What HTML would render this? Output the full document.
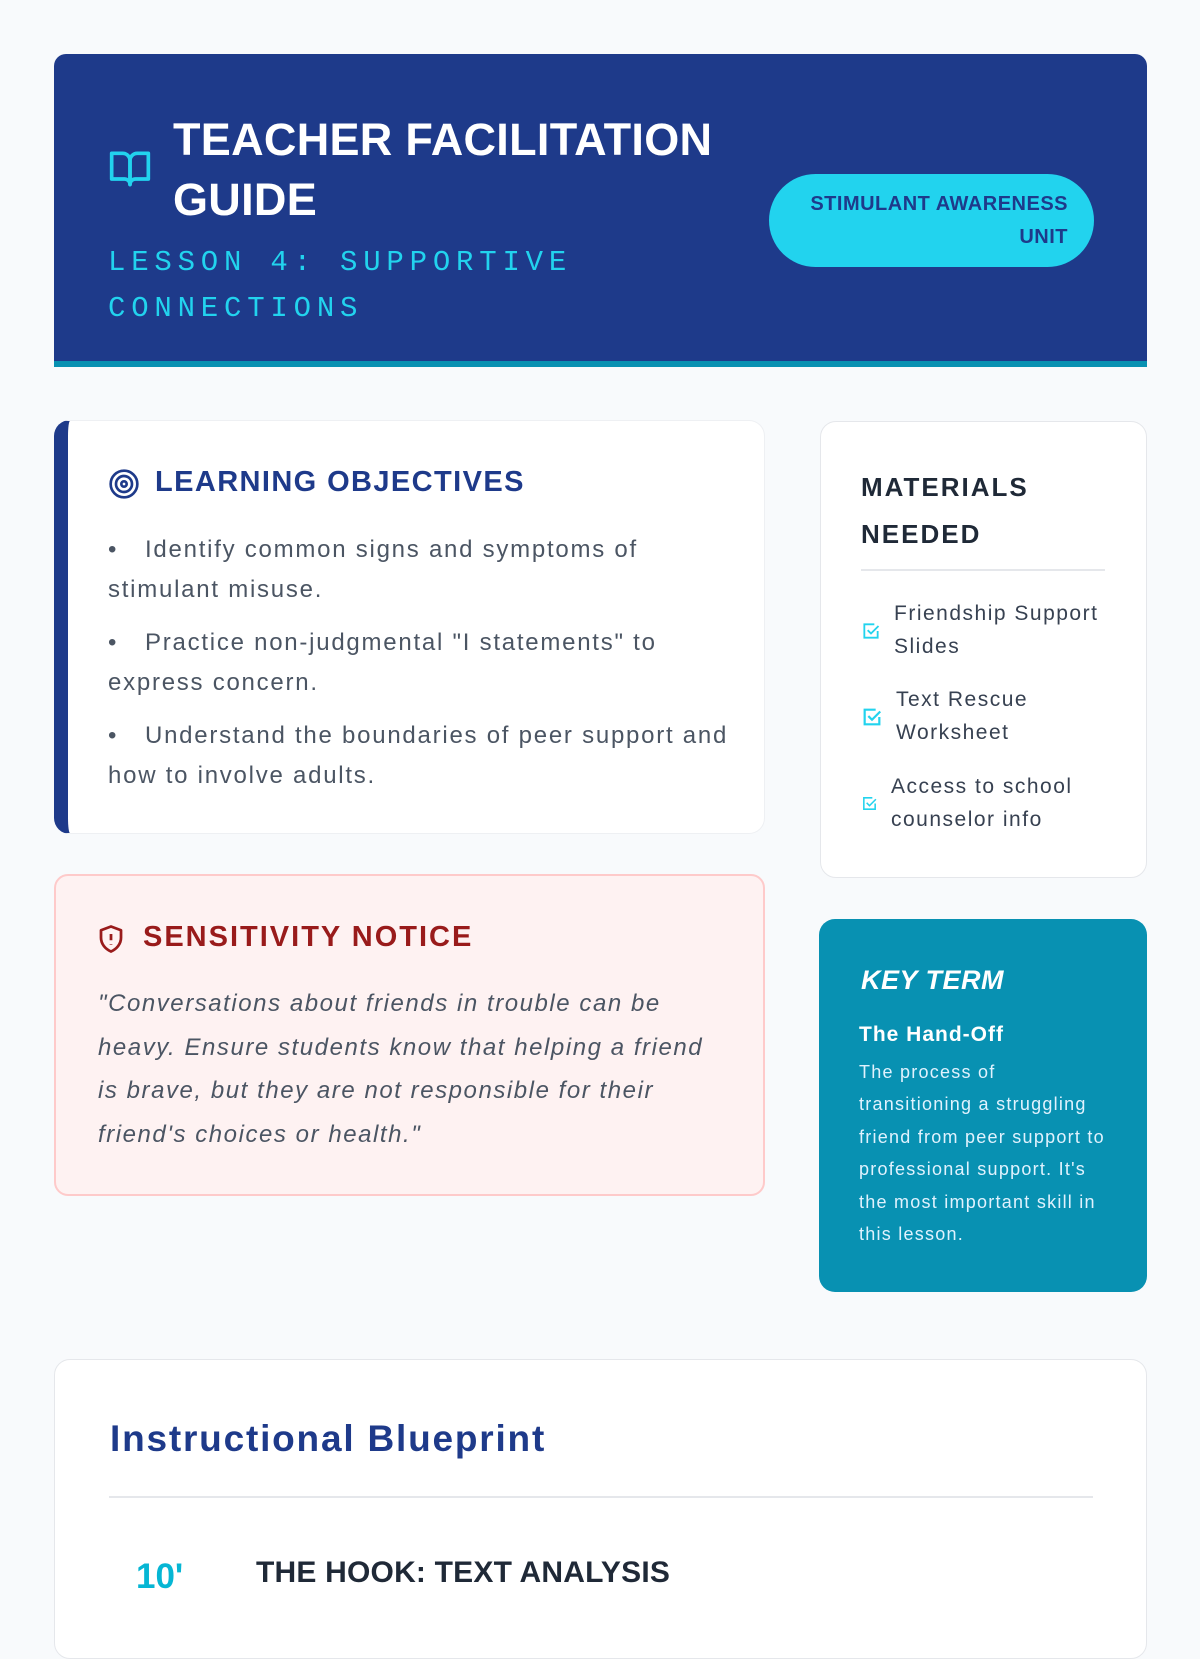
<!DOCTYPE html>
<html><head><meta charset="utf-8"><style>
*{margin:0;padding:0;box-sizing:border-box}
body{width:1200px;height:1600px;background:#f8fafc;font-family:"Liberation Sans",sans-serif;position:relative;overflow:hidden}
.a{position:absolute;white-space:nowrap}
.card{position:absolute;background:#fff;border:1px solid #e5e7eb;border-radius:16px}
.b{display:inline-block;width:37px;letter-spacing:0}
</style></head><body>
<!-- header -->
<div class="a" style="left:54px;top:54px;width:1093px;height:313px;background:#1e3a8a;border-radius:12px 12px 0 0;border-bottom:6px solid #0891b2"></div>
<svg class="a" style="left:108px;top:146px" width="44" height="44" viewBox="0 0 24 24" fill="none" stroke="#22d3ee" stroke-width="2" stroke-linejoin="round"><path d="M2 4h6a4 4 0 0 1 4 4v13a3 3 0 0 0-3-3H2z"/><path d="M22 4h-6a4 4 0 0 0-4 4v13a3 3 0 0 1 3-3h7z"/></svg>
<div class="a" style="left:173px;top:110px;color:#fff;font-weight:bold;font-size:45px;line-height:60px;letter-spacing:0.3px">TEACHER FACILITATION<br>GUIDE</div>
<div class="a" style="left:108px;top:240px;color:#22d3ee;font-family:'Liberation Mono',monospace;font-size:29px;line-height:46px;letter-spacing:5.8px">LESSON 4: SUPPORTIVE<br>CONNECTIONS</div>
<div class="a" style="left:769px;top:174px;width:325px;height:93px;background:#22d3ee;border-radius:47px"></div>
<div class="a" style="left:780px;top:188px;width:288px;text-align:right;color:#1e3a8a;font-weight:bold;font-size:20px;line-height:33px;letter-spacing:0.5px">STIMULANT AWARENESS<br>UNIT</div>

<!-- objectives -->
<div class="card" style="left:54px;top:420px;width:711px;height:414px;border-left:14px solid #1e3a8a;border-radius:16px;border-color:#eef0f3 #eef0f3 #eef0f3 #1e3a8a"></div>
<svg class="a" style="left:108px;top:468px" width="32" height="32" viewBox="0 0 24 24" fill="none" stroke="#1e3a8a" stroke-width="2"><circle cx="12" cy="12" r="10"/><circle cx="12" cy="12" r="6"/><circle cx="12" cy="12" r="2"/></svg>
<div class="a" style="left:155px;top:466px;color:#1e3a8a;font-weight:bold;font-size:29px;letter-spacing:1.4px">LEARNING OBJECTIVES</div>
<div class="a" style="left:108px;top:530px;color:#4b5563;font-size:24px;line-height:40px;letter-spacing:1.75px">
<div><span class="b">•</span>Identify common signs and symptoms of<br>stimulant misuse.</div>
<div style="margin-top:13px"><span class="b">•</span>Practice non-judgmental "I statements" to<br>express concern.</div>
<div style="margin-top:13px"><span class="b">•</span>Understand the boundaries of peer support and<br>how to involve adults.</div>
</div>

<!-- materials -->
<div class="card" style="left:820px;top:421px;width:327px;height:457px"></div>
<div class="a" style="left:861px;top:464px;color:#1f2937;font-weight:bold;font-size:26px;line-height:47px;letter-spacing:2px">MATERIALS<br>NEEDED</div>
<div class="a" style="left:861px;top:569px;width:244px;height:2px;background:#e5e7eb"></div>
<svg class="a" style="left:861px;top:621px" width="20" height="20" viewBox="0 0 24 24" fill="none" stroke="#22d3ee" stroke-width="2.2"><path d="M20 12v8H4V4h12"/><path d="M8 11l4 4 9-9"/></svg>
<div class="a" style="left:894px;top:597px;color:#374151;font-size:21px;line-height:33px;letter-spacing:1.5px">Friendship Support<br>Slides</div>
<svg class="a" style="left:861px;top:706px" width="22" height="22" viewBox="0 0 24 24" fill="none" stroke="#22d3ee" stroke-width="2.4"><path d="M20 12v8H4V4h12"/><path d="M8 11l4 4 9-9"/></svg>
<div class="a" style="left:896px;top:683px;color:#374151;font-size:21px;line-height:33px;letter-spacing:1.5px">Text Rescue<br>Worksheet</div>
<svg class="a" style="left:861px;top:795px" width="17" height="17" viewBox="0 0 24 24" fill="none" stroke="#22d3ee" stroke-width="2.2"><path d="M20 12v8H4V4h12"/><path d="M8 11l4 4 9-9"/></svg>
<div class="a" style="left:891px;top:770px;color:#374151;font-size:21px;line-height:33px;letter-spacing:1.5px">Access to school<br>counselor info</div>

<!-- sensitivity -->
<div class="a" style="left:54px;top:874px;width:711px;height:322px;background:#fef2f2;border:2px solid #fecaca;border-radius:14px"></div>
<svg class="a" style="left:96px;top:923px" width="30" height="32" viewBox="0 0 24 24" fill="none" stroke="#991b1b" stroke-width="2.2" stroke-linejoin="round"><path d="M12 2l8 3v6c0 5-3.5 9-8 11-4.5-2-8-6-8-11V5z"/><path d="M12 8v5M12 16v.5"/></svg>
<div class="a" style="left:143px;top:921px;color:#991b1b;font-weight:bold;font-size:29px;letter-spacing:2px">SENSITIVITY NOTICE</div>
<div class="a" style="left:98px;top:982px;color:#4b5563;font-style:italic;font-size:24px;line-height:43.5px;letter-spacing:1.55px">"Conversations about friends in trouble can be<br>heavy. Ensure students know that helping a friend<br>is brave, but they are not responsible for their<br>friend's choices or health."</div>

<!-- key term -->
<div class="a" style="left:819px;top:919px;width:328px;height:373px;background:#0891b2;border-radius:16px"></div>
<div class="a" style="left:861px;top:965px;color:#fff;font-weight:bold;font-style:italic;font-size:27px;letter-spacing:0.5px">KEY TERM</div>
<div class="a" style="left:859px;top:1023px;color:#fff;font-weight:bold;font-size:21px;letter-spacing:1px">The Hand-Off</div>
<div class="a" style="left:859px;top:1056px;color:#e0f2fe;font-size:18px;line-height:32.4px;letter-spacing:1.25px">The process of<br>transitioning a struggling<br>friend from peer support to<br>professional support. It's<br>the most important skill in<br>this lesson.</div>

<!-- blueprint -->
<div class="card" style="left:54px;top:1359px;width:1093px;height:300px"></div>
<div class="a" style="left:110px;top:1418px;color:#1e3a8a;font-weight:bold;font-size:37px;letter-spacing:1.8px">Instructional Blueprint</div>
<div class="a" style="left:109px;top:1496px;width:984px;height:2px;background:#e5e7eb"></div>
<div class="a" style="left:136px;top:1557px;color:#06b6d4;font-weight:bold;font-size:35px">10'</div>
<div class="a" style="left:256px;top:1556px;color:#1f2937;font-weight:bold;font-size:30px;letter-spacing:0.2px">THE HOOK: TEXT ANALYSIS</div>
</body></html>
